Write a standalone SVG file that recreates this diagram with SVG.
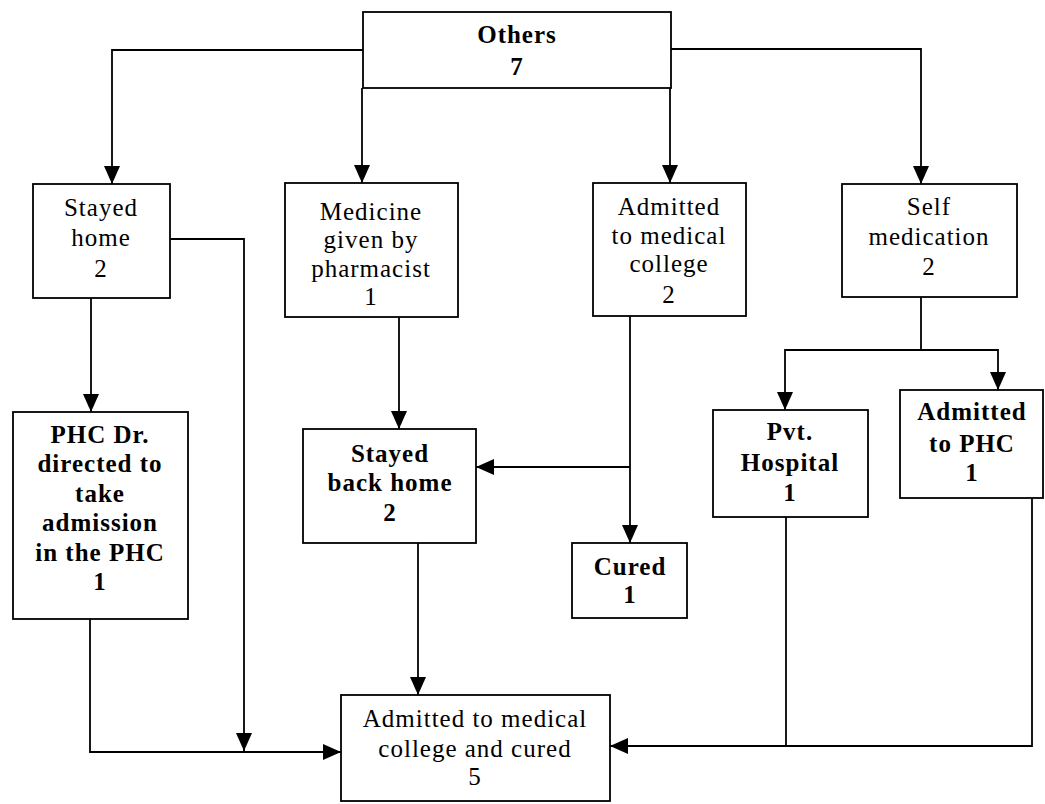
<svg xmlns="http://www.w3.org/2000/svg" width="1045" height="804" viewBox="0 0 1045 804">
  <style>
    .box { fill: #fff; stroke: #000; stroke-width: 1.8; }
    .wire { fill: none; stroke: #000; stroke-width: 1.8; }
    .arrow { marker-end: url(#head); }
    text { font-family: "Liberation Serif", "Times New Roman", serif; font-size: 25px; fill: #000; text-anchor: middle; letter-spacing: 1px; }
    .b { font-weight: bold; }
  </style>
  <defs>
    <marker id="head" viewBox="0 0 18 16" refX="18" refY="8" markerWidth="18" markerHeight="16" markerUnits="userSpaceOnUse" orient="auto">
      <path d="M0,0 L18,8 L0,16 Z" fill="#000"/>
    </marker>
  </defs>

  <g id="connectors">
    <!-- from Others -->
    <polyline class="wire arrow" points="363,50 112,50 112,184"/>
    <polyline class="wire arrow" points="362,88 362,183"/>
    <polyline class="wire arrow" points="670,88 670,183"/>
    <polyline class="wire arrow" points="671,49 921,49 921,184"/>
    <!-- Stayed home -->
    <polyline class="wire arrow" points="91,298 91,412"/>
    <polyline class="wire arrow" points="170,239 244,239 244,751"/>
    <!-- Medicine given by pharmacist -->
    <polyline class="wire arrow" points="399,317 399,429"/>
    <!-- Admitted to medical college -->
    <polyline class="wire arrow" points="630,316 630,543"/>
    <polyline class="wire arrow" points="630,467 476,467"/>
    <!-- Self medication -->
    <polyline class="wire" points="921,297 921,350"/>
    <polyline class="wire arrow" points="921,350 785,350 785,410"/>
    <polyline class="wire arrow" points="921,350 998,350 998,390"/>
    <!-- into final box -->
    <polyline class="wire arrow" points="90,619 90,752 341,752"/>
    <polyline class="wire arrow" points="418,543 418,695"/>
    <polyline class="wire" points="786,517 786,746"/>
    <polyline class="wire arrow" points="1032,498 1032,746 610,746"/>
  </g>

  <g id="others">
    <rect class="box" x="363" y="12" width="308" height="76"/>
    <text class="b" x="517" y="43">Others</text>
    <text class="b" x="517" y="75">7</text>
  </g>

  <g id="stayed-home">
    <rect class="box" x="33" y="184" width="137" height="114"/>
    <text x="101" y="216">Stayed</text>
    <text x="101" y="246">home</text>
    <text x="101" y="277">2</text>
  </g>

  <g id="medicine-pharmacist">
    <rect class="box" x="285" y="183" width="173" height="134"/>
    <text x="371" y="220">Medicine</text>
    <text x="371" y="248">given by</text>
    <text x="371" y="277">pharmacist</text>
    <text x="371" y="305">1</text>
  </g>

  <g id="admitted-medical-college">
    <rect class="box" x="593" y="183" width="153" height="133"/>
    <text x="669" y="215">Admitted</text>
    <text x="669" y="244">to medical</text>
    <text x="669" y="272">college</text>
    <text x="669" y="303">2</text>
  </g>

  <g id="self-medication">
    <rect class="box" x="842" y="184" width="175" height="113"/>
    <text x="929" y="215">Self</text>
    <text x="929" y="245">medication</text>
    <text x="929" y="275">2</text>
  </g>

  <g id="phc-doctor">
    <rect class="box" x="13" y="412" width="175" height="207"/>
    <text class="b" x="100" y="443">PHC Dr.</text>
    <text class="b" x="100" y="472">directed to</text>
    <text class="b" x="100" y="502">take</text>
    <text class="b" x="100" y="531">admission</text>
    <text class="b" x="100" y="561">in the PHC</text>
    <text class="b" x="100" y="590">1</text>
  </g>

  <g id="stayed-back-home">
    <rect class="box" x="303" y="429" width="173" height="114"/>
    <text class="b" x="390" y="462">Stayed</text>
    <text class="b" x="390" y="491">back home</text>
    <text class="b" x="390" y="521">2</text>
  </g>

  <g id="cured">
    <rect class="box" x="572" y="543" width="115" height="75"/>
    <text class="b" x="630" y="575">Cured</text>
    <text class="b" x="630" y="603">1</text>
  </g>

  <g id="pvt-hospital">
    <rect class="box" x="713" y="410" width="155" height="107"/>
    <text class="b" x="790" y="440">Pvt.</text>
    <text class="b" x="790" y="471">Hospital</text>
    <text class="b" x="790" y="501">1</text>
  </g>

  <g id="admitted-phc">
    <rect class="box" x="900" y="390" width="143" height="108"/>
    <text class="b" x="972" y="420">Admitted</text>
    <text class="b" x="972" y="452">to PHC</text>
    <text class="b" x="972" y="481">1</text>
  </g>

  <g id="medical-college-cured">
    <rect class="box" x="341" y="695" width="269" height="106"/>
    <text x="475" y="727">Admitted to medical</text>
    <text x="475" y="757">college and cured</text>
    <text x="475" y="785">5</text>
  </g>
</svg>
